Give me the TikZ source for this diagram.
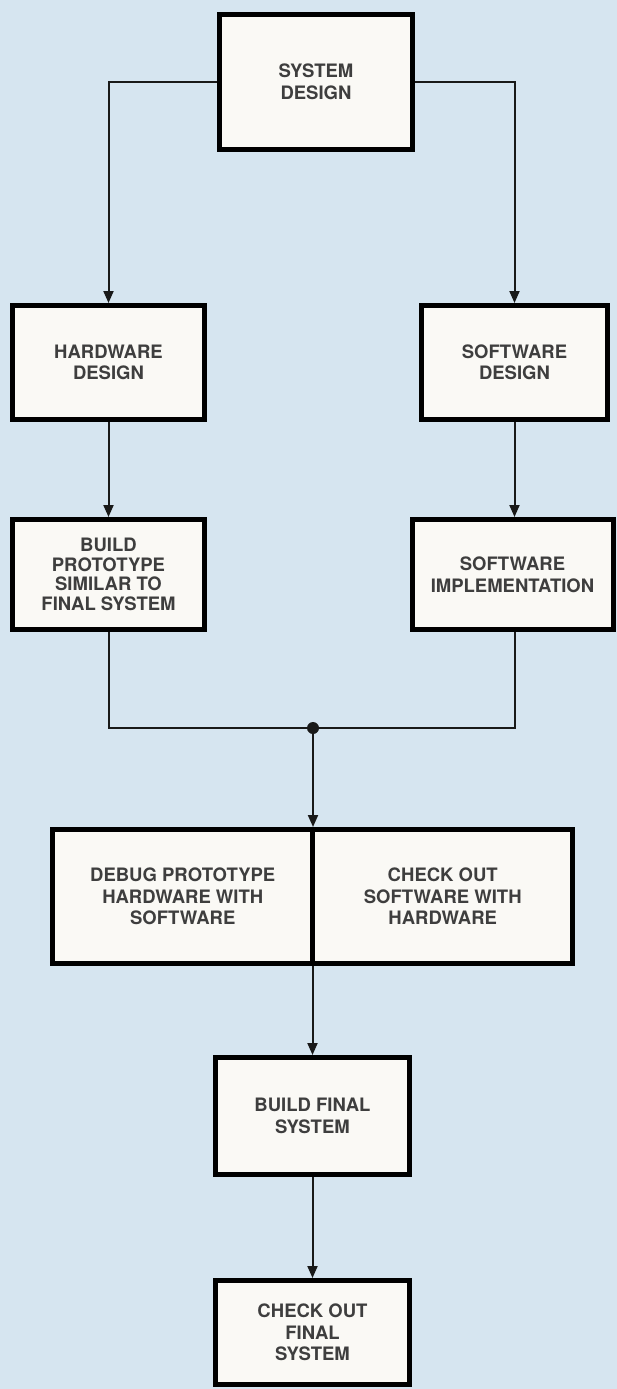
\documentclass[tikz,border=0pt]{standalone}
\usepackage{fontspec}
\setmainfont{TeX Gyre Heros}
\usetikzlibrary{arrows.meta, positioning}
\definecolor{paper}{RGB}{214,229,240}
\definecolor{cardfill}{RGB}{250,249,245}
\definecolor{ink}{RGB}{62,62,62}
\definecolor{wirecol}{RGB}{25,25,25}
\begin{document}
\begin{tikzpicture}[
        x=1pt, y=-1pt,
        box/.style={rectangle, draw=black, line width=5pt, fill=cardfill, align=center, inner sep=0pt, minimum width=192pt, minimum height=114pt, text=ink, font=\bfseries\fontsize{18.5}{21.5}\selectfont},
        arrow/.style={-{Triangle[width=10pt,length=12pt]}, line width=2pt, draw=wirecol},
        wire/.style={line width=2pt, draw=wirecol}
    ]
    \fill[paper] (0,0) rectangle (617,1389);
    \useasboundingbox (0,0) rectangle (617,1389);

    \node[box, minimum width=193pt, minimum height=135pt] (sys) at (316,82) {SYSTEM\\DESIGN};

    \node[box] (hw) at (108.5,362.5) {HARDWARE\\DESIGN};
    \node[box, minimum width=186pt] (sw) at (514.5,362.5) {SOFTWARE\\DESIGN};

    \node[box, below=95pt of hw, minimum height=110pt, font=\bfseries\fontsize{18.5}{19.5}\selectfont] (proto) {BUILD\\PROTOTYPE\\SIMILAR TO\\FINAL SYSTEM};
    \node[box, below=95pt of sw, xshift=-2pt, minimum width=201pt, minimum height=110pt] (impl) {SOFTWARE\\IMPLEMENTATION};

    \coordinate (join) at (313,728);

    \node[box, minimum width=260pt, minimum height=134pt] (dbg) at (182.75,896.5) {DEBUG PROTOTYPE\\HARDWARE WITH\\SOFTWARE};
    \node[box, right=-5pt of dbg, minimum width=260pt, minimum height=134pt] (chk) {CHECK OUT\\SOFTWARE WITH\\HARDWARE};

    \node[box, minimum width=194pt, minimum height=117pt] (final) at (312.5,1116) {BUILD FINAL\\SYSTEM};
    \node[box, below=101pt of final, minimum width=194pt, minimum height=104pt] (check) {CHECK OUT\\FINAL\\SYSTEM};

    \draw[arrow] (sys.west) -| (hw.north);
    \draw[arrow] (sys.east) -| (sw.north);
    \draw[arrow] (hw) -- (proto);
    \draw[arrow] (sw.south) -- (sw.south |- impl.north);

    \draw[wire] (proto.south) |- (join) -| (sw.south |- impl.south);
    \fill[wirecol] (join) circle (6pt);
    \draw[arrow] (join) -- (join |- dbg.north);

    \draw[arrow] (final.north |- dbg.south) -- (final.north);
    \draw[arrow] (final) -- (check);

\end{tikzpicture}
\end{document}
